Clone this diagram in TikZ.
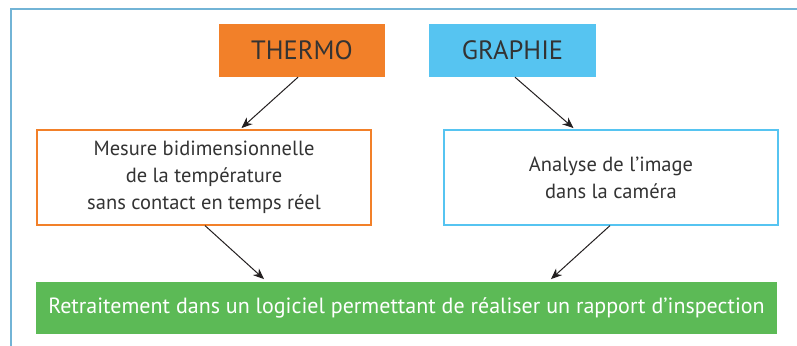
\documentclass[tikz,border=0pt]{standalone}
\usepackage{fontspec}
\setmainfont{PT Sans}
\usetikzlibrary{arrows.meta,calc}
\definecolor{orangeC}{HTML}{F28029}
\definecolor{blueC}{HTML}{56C4F1}
\definecolor{greenC}{HTML}{5CBA56}
\definecolor{txtC}{HTML}{333333}
\definecolor{frameC}{HTML}{72B4D6}
\definecolor{arrC}{HTML}{231F20}
\begin{document}
\begin{tikzpicture}[x=1bp,y=-1bp,
  topbox/.style={minimum width=166bp,minimum height=53bp,inner sep=0pt,text=txtC,font=\fontsize{26.5bp}{30bp}\selectfont},
  midbox/.style={draw,line width=1.2bp,minimum width=334bp,minimum height=95bp,inner sep=0pt,align=center,text=txtC,font=\fontsize{20.5bp}{27bp}\selectfont},
  botbox/.style={fill=greenC,minimum width=741bp,minimum height=52bp,inner sep=0pt,text=white,font=\fontsize{22bp}{28bp}\selectfont},
  arr/.style={draw=arrC,line width=1bp,-{Stealth[length=11bp,width=9bp]}}]
\useasboundingbox (0,0) rectangle (797,345);
\draw[frameC,line width=1.5bp] (11,346) -- (11,9) -- (798,9);
\node[topbox,fill=orangeC] (thermo) at (302,50.5) {THERMO};
\node[topbox,fill=blueC,minimum width=167bp] (graph) at (512.5,50.5) {GRAPHIE};
\node[midbox,draw=orangeC] (mes) at (204,177.5) {Mesure bidimensionnelle\\de la température\\sans contact en temps réel};
\node[midbox,draw=blueC] (ana) at (611,177.5) {Analyse de l’image\\dans la caméra};
\node[botbox] (ret) at (406.5,308) {Retraitement dans un logiciel permettant de réaliser un rapport d’inspection};
\draw[arr,shorten >=2bp] ([xshift=-4bp]thermo.south) -- ([xshift=36bp]mes.north);
\draw[arr,shorten >=2bp] ([xshift=2.5bp]graph.south) -- ([xshift=-36bp]ana.north);
\draw[arr,shorten >=4bp] ([xshift=1bp]mes.south) -- ([xshift=-139.5bp]ret.north);
\draw[arr,shorten >=4bp] ([xshift=-1bp]ana.south) -- ([xshift=141.5bp]ret.north);
\end{tikzpicture}
\end{document}
